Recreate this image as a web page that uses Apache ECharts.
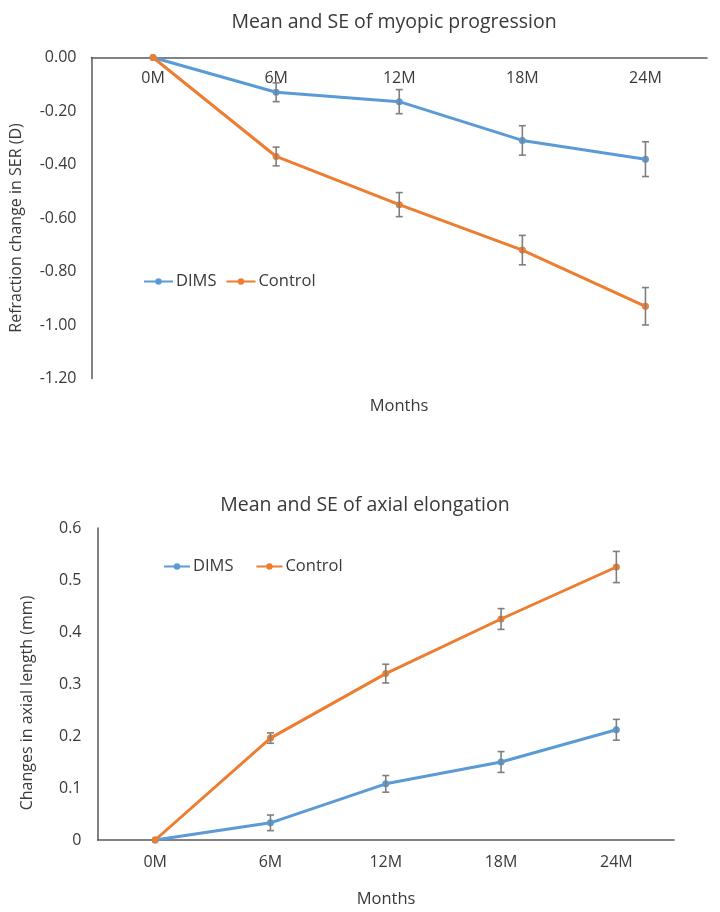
<!DOCTYPE html>
<html>
<head>
<meta charset="utf-8">
<script src="https://cdn.jsdelivr.net/npm/echarts@6/dist/echarts.min.js"></script>
<style>
html,body{margin:0;padding:0;background:#fff;}
#c{width:720px;height:912px;}
</style>
</head>
<body>
<div id="c"></div>
<script>
// ---- data ----
const months = ['0M', '6M', '12M', '18M', '24M'];
const seriesNames = ['DIMS', 'Control'];

// Top chart: refraction change in SER (D)
const dimsSER = [0, -0.13, -0.165, -0.31, -0.38];
const dimsSERse = [0, 0.035, 0.045, 0.055, 0.065];
const controlSER = [0, -0.37, -0.55, -0.72, -0.93];
const controlSERse = [0, 0.035, 0.045, 0.055, 0.07];

// Bottom chart: changes in axial length (mm)
const dimsAL = [0, 0.033, 0.108, 0.15, 0.212];
const dimsALse = [0, 0.015, 0.016, 0.02, 0.02];
const controlAL = [0, 0.196, 0.32, 0.425, 0.525];
const controlALse = [0, 0.01, 0.018, 0.02, 0.03];

const titles = ['Mean and SE of myopic progression', 'Mean and SE of axial elongation'];
const yTitles = ['Refraction change in SER (D)', 'Changes in axial length (mm)'];
const xTitle = 'Months';

// ---- styling ----
const FONT = 'Open Sans';
const TXT = '#3a3a3a';
const AX = '#595959';
const BLUE = '#5B9BD5';
const ORANGE = '#ED7D31';
const ERR = '#7F7F7F';

function errRender(params, api) {
  const x = api.value(0), m = api.value(1), se = api.value(2);
  if (!se) return null;
  const hi = api.coord([x, m + se]);
  const lo = api.coord([x, m - se]);
  const w = 3.5;
  const st = { stroke: ERR, lineWidth: 1.6 };
  return {
    type: 'group',
    children: [
      { type: 'line', shape: { x1: hi[0], y1: hi[1], x2: lo[0], y2: lo[1] }, style: st },
      { type: 'line', shape: { x1: hi[0] - w, y1: hi[1], x2: hi[0] + w, y2: hi[1] }, style: st },
      { type: 'line', shape: { x1: lo[0] - w, y1: lo[1], x2: lo[0] + w, y2: lo[1] }, style: st }
    ]
  };
}

function lineSeries(name, data, color, idx) {
  return {
    name: name, type: 'line', data: data,
    xAxisIndex: idx, yAxisIndex: idx,
    symbol: 'circle', symbolSize: 7,
    lineStyle: { color: color, width: 3 },
    itemStyle: { color: color },
    z: 2, animation: false
  };
}
function errSeries(name, mean, se, idx) {
  return {
    name: name, type: 'custom', renderItem: errRender,
    xAxisIndex: idx, yAxisIndex: idx,
    data: months.map((m, i) => [i, mean[i], se[i]]),
    encode: { x: 0, y: 1 }, z: 3, animation: false, silent: true
  };
}

const chart = echarts.init(document.getElementById('c'), null, { renderer: 'canvas' });

const labelStyle = { color: TXT, fontFamily: FONT, fontSize: 16 };

const option = {
  backgroundColor: '#fff',
  animation: false,
  textStyle: { fontFamily: FONT },
  title: [
    { text: titles[0], left: 389, top: 7, textAlign: 'center',
      textStyle: { color: TXT, fontFamily: FONT, fontSize: 19.5, fontWeight: 'normal' } },
    { text: titles[1], left: 360, top: 490, textAlign: 'center',
      textStyle: { color: TXT, fontFamily: FONT, fontSize: 19.5, fontWeight: 'normal' } }
  ],
  legend: [
    { data: seriesNames, left: 138, top: 268, itemWidth: 29, itemHeight: 8, itemGap: 9,
      textStyle: { color: TXT, fontFamily: FONT, fontSize: 16.5, padding: [0, 0, 0, -2] } },
    { data: seriesNames, left: 158, top: 553, itemWidth: 26, itemHeight: 8, itemGap: 22,
      textStyle: { color: TXT, fontFamily: FONT, fontSize: 16.5, padding: [0, 0, 0, -2] } }
  ],
  grid: [
    { left: 91.5, top: 57.5, width: 615.5, height: 321 },
    { left: 97.5, top: 528, width: 576.5, height: 312 }
  ],
  xAxis: [
    { type: 'category', gridIndex: 0, data: months, boundaryGap: true, position: 'top',
      axisLine: { onZero: false, lineStyle: { color: AX, width: 1.5 } },
      axisTick: { show: false },
      axisLabel: Object.assign({ inside: true, margin: 13 }, labelStyle),
      splitLine: { show: false } },
    { type: 'category', gridIndex: 1, data: months, boundaryGap: true,
      axisLine: { onZero: true, lineStyle: { color: AX, width: 1.5 } },
      axisTick: { show: false },
      axisLabel: Object.assign({ margin: 14 }, labelStyle),
      splitLine: { show: false } }
  ],
  yAxis: [
    { type: 'value', gridIndex: 0, min: -1.2, max: 0, interval: 0.2,
      axisLine: { show: true, onZero: false, lineStyle: { color: AX, width: 1.5 } },
      axisTick: { show: false }, splitLine: { show: false },
      axisLabel: Object.assign({ margin: 15, formatter: v => v.toFixed(2) }, labelStyle) },
    { type: 'value', gridIndex: 1, min: 0, max: 0.6, interval: 0.1,
      axisLine: { show: true, lineStyle: { color: AX, width: 1.5 } },
      axisTick: { show: false }, splitLine: { show: false },
      axisLabel: Object.assign({ margin: 16, formatter: v => (Math.round(v * 10) / 10).toString() }, labelStyle) }
  ],
  graphic: [
    { type: 'text', x: 399, y: 406, style: { text: xTitle, fill: TXT, font: '16.5px "Open Sans"', align: 'center', verticalAlign: 'middle' } },
    { type: 'text', x: 386, y: 899, style: { text: xTitle, fill: TXT, font: '16.5px "Open Sans"', align: 'center', verticalAlign: 'middle' } },
    { type: 'text', x: 16, y: 228, rotation: Math.PI / 2, style: { text: yTitles[0], fill: TXT, font: '16px "Open Sans"', align: 'center', verticalAlign: 'middle' } },
    { type: 'text', x: 27, y: 703, rotation: Math.PI / 2, style: { text: yTitles[1], fill: TXT, font: '16px "Open Sans"', align: 'center', verticalAlign: 'middle' } }
  ],
  series: [
    lineSeries('DIMS', dimsSER, BLUE, 0),
    lineSeries('Control', controlSER, ORANGE, 0),
    errSeries('DIMS', dimsSER, dimsSERse, 0),
    errSeries('Control', controlSER, controlSERse, 0),
    lineSeries('DIMS', dimsAL, BLUE, 1),
    lineSeries('Control', controlAL, ORANGE, 1),
    errSeries('DIMS', dimsAL, dimsALse, 1),
    errSeries('Control', controlAL, controlALse, 1)
  ]
};
chart.setOption(option);
</script>
</body>
</html>
